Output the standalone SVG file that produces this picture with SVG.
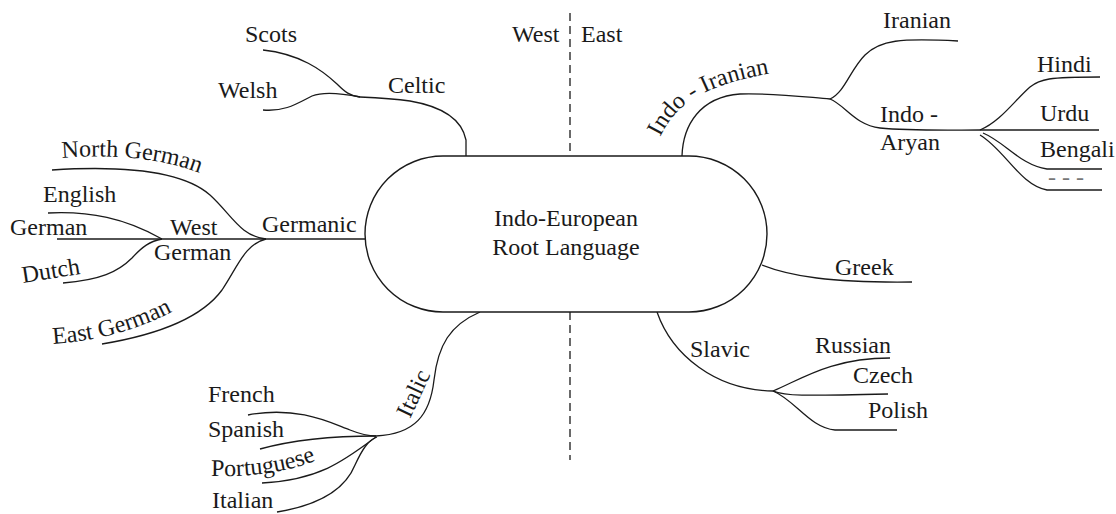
<svg xmlns="http://www.w3.org/2000/svg" width="1116" height="514" viewBox="0 0 1116 514">
<style>
  text { font-family: "Liberation Serif", Tinos, "Times New Roman", "DejaVu Serif", serif; font-size: 24px; fill: #1a1a1a; }
  .ln { fill: none; stroke: #1a1a1a; stroke-width: 1.3; }
  .dash { fill: none; stroke: #1a1a1a; stroke-width: 1.3; stroke-dasharray: 8 5; }
  .hub { fill: #ffffff; stroke: #1a1a1a; stroke-width: 1.4; }
  .dots { fill: #777; }
</style>
<defs>
  <path id="pNorth" d="M 62,158 C 110,154 165,157 212,178"/>
  <path id="pEast" d="M 53,344 C 95,341 140,331 184,305"/>
  <path id="pPort" d="M 211,476 C 250,477 290,473 324,457"/>
  <path id="pIndoIr" d="M 660,137 C 676,105 700,86 772,73"/>
</defs>
<rect width="1116" height="514" fill="#ffffff"/>
<g id="divider">
  <line class="dash" x1="570" y1="13" x2="570" y2="156"/>
  <line class="dash" x1="570" y1="312" x2="570" y2="460"/>
</g>
<g id="connectors">
  <path class="ln" d="M 263,50 C 300,54 322,70 337,84 C 345,92 350,96 360,97"/>
  <path class="ln" d="M 263,110 C 285,112 298,103 312,96 C 322,92 340,93 360,97"/>
  <path class="ln" d="M 360,97 C 380,98 395,99 410,101 C 445,107 462,120 466,140 V 156"/>
  <path class="ln" d="M 52,170 C 130,165 185,173 210,195 C 232,215 240,236 266,239"/>
  <path class="ln" d="M 48,213 C 90,211 125,218 162,239"/>
  <path class="ln" d="M 57,239 H 365"/>
  <path class="ln" d="M 63,283 C 100,280 118,272 132,258 C 142,247 150,241 162,239"/>
  <path class="ln" d="M 102,344 C 150,336 200,320 222,290 C 238,266 245,244 266,239"/>
  <path class="ln" d="M 480,312 C 450,325 438,345 434,380 C 430,415 415,434 376,436"/>
  <path class="ln" d="M 248,415 C 300,405 335,425 350,430 C 360,434 368,436 376,436"/>
  <path class="ln" d="M 260,449 C 300,438 340,436 376,436"/>
  <path class="ln" d="M 262,483 C 320,480 345,460 376,437"/>
  <path class="ln" d="M 277,512 C 320,505 345,490 355,465 C 362,450 368,440 377,437"/>
  <path class="ln" d="M 682,156 C 683,125 700,97 740,94 C 775,93 805,97 830,99"/>
  <path class="ln" d="M 830,99 C 845,92 850,70 865,55 C 880,40 900,38 958,41"/>
  <path class="ln" d="M 830,99 C 845,105 855,125 880,128 C 910,131 950,130 980,130"/>
  <path class="ln" d="M 980,130 C 1000,122 1015,100 1030,87 C 1040,79 1048,77 1100,77"/>
  <path class="ln" d="M 980,130 H 1099"/>
  <path class="ln" d="M 983,133 C 1005,142 1020,165 1047,169 H 1102"/>
  <path class="ln" d="M 980,135 C 1005,150 1020,185 1047,190 H 1102"/>
  <path class="ln" d="M 762,265 C 790,276 830,283 912,282"/>
  <path class="ln" d="M 657,312 C 672,355 715,390 773,391"/>
  <path class="ln" d="M 773,391 C 800,380 830,358 890,358"/>
  <path class="ln" d="M 773,391 C 785,396 800,396 888,394"/>
  <path class="ln" d="M 773,391 C 795,400 810,428 835,430 H 897"/>
</g>
<g id="root">
  <rect class="hub" x="365" y="156" width="402" height="156" rx="78" ry="78"/>
  <text x="566" y="226" text-anchor="middle">Indo-European</text>
  <text x="566" y="255" text-anchor="middle">Root Language</text>
</g>
<g id="side-labels">
  <text x="512" y="42">West</text>
  <text x="581" y="42">East</text>
</g>
<g id="celtic"><text x="388" y="93">Celtic</text></g>
<g id="scots"><text x="245" y="42">Scots</text></g>
<g id="welsh"><text x="218" y="98">Welsh</text></g>
<g id="germanic"><text x="262" y="232">Germanic</text></g>
<g id="north-german"><text><textPath href="#pNorth">North German</textPath></text></g>
<g id="west-german"><text x="170" y="235">West</text><text x="154" y="260">German</text></g>
<g id="english"><text x="43" y="202">English</text></g>
<g id="german"><text x="10" y="235">German</text></g>
<g id="dutch"><text x="23" y="283" transform="rotate(-9 23 283)">Dutch</text></g>
<g id="east-german"><text><textPath href="#pEast">East German</textPath></text></g>
<g id="italic"><text x="410" y="419" transform="rotate(-65 410 419)">Italic</text></g>
<g id="french"><text x="208" y="402">French</text></g>
<g id="spanish"><text x="208" y="437">Spanish</text></g>
<g id="portuguese"><text><textPath href="#pPort">Portuguese</textPath></text></g>
<g id="italian"><text x="212" y="508">Italian</text></g>
<g id="indo-iranian"><text><textPath href="#pIndoIr">Indo - Iranian</textPath></text></g>
<g id="iranian"><text x="883" y="28">Iranian</text></g>
<g id="indo-aryan"><text x="880" y="122">Indo -</text><text x="880" y="150">Aryan</text></g>
<g id="hindi"><text x="1037" y="72">Hindi</text></g>
<g id="urdu"><text x="1040" y="121">Urdu</text></g>
<g id="bengali"><text x="1040" y="157">Bengali</text></g>
<g id="more"><text class="dots" x="1048" y="185">- - -</text></g>
<g id="greek"><text x="835" y="275">Greek</text></g>
<g id="slavic"><text x="690" y="357">Slavic</text></g>
<g id="russian"><text x="815" y="353">Russian</text></g>
<g id="czech"><text x="853" y="383">Czech</text></g>
<g id="polish"><text x="868" y="418">Polish</text></g>
</svg>
